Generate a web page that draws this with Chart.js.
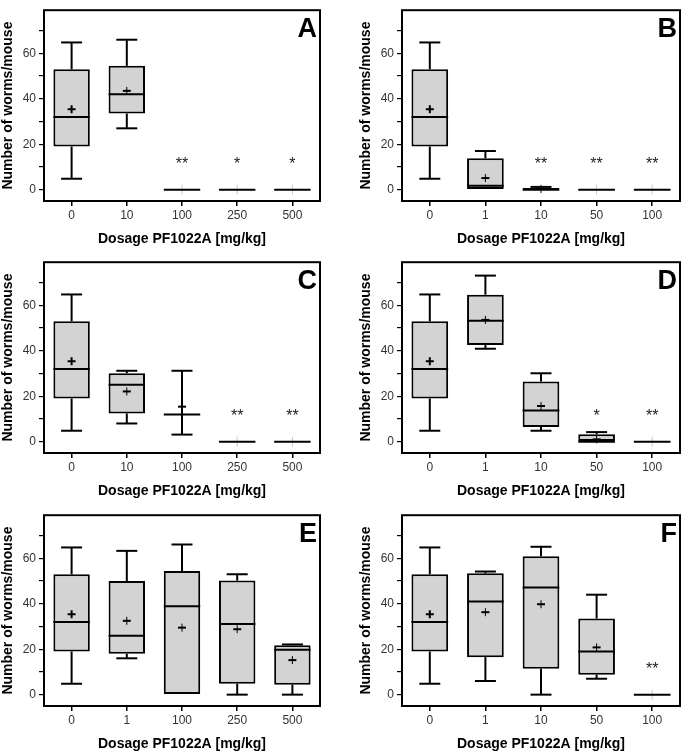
<!DOCTYPE html>
<html><head><meta charset="utf-8">
<script src="https://cdn.jsdelivr.net/npm/chart.js@4.4.0/dist/chart.umd.min.js"></script>
<style>
html,body{margin:0;padding:0;background:#fff;overflow:hidden;width:682px;height:755px;}
canvas{position:absolute;}
</style></head><body>
<canvas id="cA" width="341" height="250" style="left:0;top:0"></canvas>
<canvas id="cB" width="324" height="250" style="left:358px;top:0"></canvas>
<canvas id="cC" width="341" height="250" style="left:0;top:252px"></canvas>
<canvas id="cD" width="324" height="250" style="left:358px;top:252px"></canvas>
<canvas id="cE" width="341" height="250" style="left:0;top:505px"></canvas>
<canvas id="cF" width="324" height="250" style="left:358px;top:505px"></canvas>
<script>
// ---- Data ----
const labelsA = ['0','10','100','250','500'];
const minA  = [4.8, 27.0, 0, 0, 0];
const q1A   = [19, 33.5, 0, 0, 0];
const medA  = [32, 42.0, 0, 0, 0];
const q3A   = [53, 54.5, 0, 0, 0];
const maxA  = [64.8, 66.0, 0, 0, 0];
const meanA = [35.4, 43.5, 0, 0, 0];
const sigA  = ['', '', '**', '*', '*'];

const labelsB = ['0','1','10','50','100'];
const minB  = [4.8, 0, 0, 0, 0];
const q1B   = [19, 0, 0, 0, 0];
const medB  = [32, 1.7, 0, 0, 0];
const q3B   = [53, 13.8, 0.7, 0, 0];
const maxB  = [64.8, 17.0, 1.2, 0, 0];
const meanB = [35.4, 5.1, 0.3, 0, 0];
const sigB  = ['', '', '**', '**', '**'];

const labelsC = ['0','10','100','250','500'];
const minC  = [4.8, 8.0, 3.1, 0, 0];
const q1C   = [19, 12.4, 12.0, 0, 0];
const medC  = [32, 25.1, 12.0, 0, 0];
const q3C   = [53, 30.1, 12.0, 0, 0];
const maxC  = [64.8, 31.2, 31.2, 0, 0];
const meanC = [35.4, 22.1, 15.4, 0, 0];
const sigC  = ['', '', '', '**', '**'];

const labelsD = ['0','1','10','50','100'];
const minD  = [4.8, 40.9, 4.8, 0, 0];
const q1D   = [19, 42.6, 6.4, 0, 0];
const medD  = [32, 53.2, 13.7, 0, 0];
const q3D   = [53, 64.7, 26.5, 3.3, 0];
const maxD  = [64.8, 73.1, 30.1, 4.2, 0];
const meanD = [35.4, 53.6, 15.7, 1.0, 0];
const sigD  = ['', '', '', '*', '**'];

const labelsE = ['0','1','100','250','500'];
const minE  = [4.8, 16.0, 0, 0, 0];
const q1E   = [19, 18.0, 0, 4.8, 4.4];
const medE  = [32, 25.9, 38.9, 31.1, 19.8];
const q3E   = [53, 50.0, 54.4, 50.2, 21.8];
const maxE  = [64.8, 63.3, 66.1, 53.0, 22.1];
const meanE = [35.4, 32.5, 29.5, 28.8, 15.2];
const sigE  = ['', '', '', '', ''];

const labelsF = ['0','1','10','50','100'];
const minF  = [4.8, 6.0, 0, 7.0, 0];
const q1F   = [19, 16.5, 11.4, 8.8, 0];
const medF  = [32, 41.0, 47.2, 19.0, 0];
const q3F   = [53, 53.4, 60.9, 33.5, 0];
const maxF  = [64.8, 54.2, 65.1, 44.0, 0];
const meanF = [35.4, 36.3, 39.8, 20.8, 0];
const sigF  = ['', '', '', '', '**'];

const SIG_LEVEL = 13.0;
const yTickValues = [0, 10, 20, 30, 40, 50, 60, 70];
const xTitle = 'Dosage PF1022A [mg/kg]';
const yTitle = 'Number of worms/mouse';

// ---- Drawing ----
const FONT = '"Liberation Sans", Arial, Helvetica, sans-serif';
const BAR_PCT = 0.66;

const boxExtras = {
  id: 'boxExtras',
  afterDatasetsDraw(chart, args, o) {
    const {ctx, scales: {x, y}} = chart;
    const catW = x.getPixelForValue(1) - x.getPixelForValue(0);
    const half = catW * BAR_PCT / 2;
    const cap = 10.5;
    ctx.save();
    ctx.lineCap = 'butt';
    const line = (x1, y1, x2, y2, w, c) => {
      ctx.beginPath(); ctx.lineWidth = w; ctx.strokeStyle = c || '#000';
      ctx.moveTo(x1, y1); ctx.lineTo(x2, y2); ctx.stroke();
    };
    for (let i = 0; i < o.med.length; i++) {
      const cx = x.getPixelForValue(i);
      const pMax = y.getPixelForValue(o.max[i]), pQ3 = y.getPixelForValue(o.q3[i]);
      const pMin = y.getPixelForValue(o.min[i]), pQ1 = y.getPixelForValue(o.q1[i]);
      if (o.max[i] > o.q3[i]) {
        line(cx, pQ3, cx, pMax, 2);
        line(cx - cap, pMax, cx + cap, pMax, 2);
      }
      if (o.min[i] < o.q1[i]) {
        line(cx, pQ1, cx, pMin, 2);
        line(cx - cap, pMin, cx + cap, pMin, 2);
      }
      const pMean = y.getPixelForValue(o.mean[i]);
      const zero = o.max[i] === 0;
      if (zero) {
        line(cx, pMean - 5, cx, pMean + 5, 1, '#c8c8c8');
      }
      const pMed = y.getPixelForValue(o.med[i]);
      line(cx - half, pMed, cx + half, pMed, 2);
      if (!zero) {
        line(cx - 4, pMean, cx + 4, pMean, 2);
        line(cx, pMean - 4, cx, pMean + 4, i === 0 ? 2 : 1);
      }
      if (o.sig[i]) {
        ctx.font = '16px ' + FONT;
        ctx.fillStyle = '#222';
        ctx.textAlign = 'center';
        ctx.textBaseline = 'alphabetic';
        ctx.fillText(o.sig[i], cx, y.getPixelForValue(SIG_LEVEL) + 9);
      }
    }
    ctx.restore();
  },
  afterDraw(chart, args, o) {
    const {ctx, chartArea: a} = chart;
    ctx.save();
    ctx.strokeStyle = '#000';
    ctx.lineWidth = 2;
    ctx.strokeRect(a.left, a.top, a.right - a.left, a.bottom - a.top);
    ctx.font = 'bold 27px ' + FONT;
    ctx.fillStyle = '#000';
    ctx.textAlign = 'right';
    ctx.textBaseline = 'alphabetic';
    ctx.fillText(o.letter, a.right - 3, a.top + 26.5);
    ctx.restore();
  }
};

function makePanel(id, letter, labels, mn, q1, med, q3, mx, mean, sig, padRight) {
  new Chart(document.getElementById(id), {
    type: 'bar',
    data: {
      labels: labels,
      datasets: [{
        data: q1.map((v, i) => q3[i] > v ? [v, q3[i]] : null),
        backgroundColor: '#d3d3d3',
        borderColor: '#000',
        borderWidth: 2,
        borderSkipped: false,
        barPercentage: BAR_PCT,
        categoryPercentage: 1
      }]
    },
    options: {
      responsive: false,
      animation: false,
      events: [],
      layout: {padding: {left: 0, top: 3, right: padRight, bottom: 0}},
      plugins: {
        legend: {display: false},
        tooltip: {enabled: false},
        boxExtras: {letter, min: mn, q1, med, q3, max: mx, mean, sig}
      },
      scales: {
        x: {
          offset: true,
          grid: {display: true, drawOnChartArea: false, drawTicks: true, tickLength: 5,
                 color: '#000', lineWidth: 1.5, offset: false},
          border: {display: false},
          ticks: {color: '#333', font: {size: 12, family: FONT}, padding: 2, maxRotation: 0, autoSkip: false},
          title: {display: true, text: xTitle, color: '#000',
                  font: {size: 14, weight: 'bold', family: FONT}, padding: {top: 2, bottom: 2}},
          afterFit: s => { s.height = 49; }
        },
        y: {
          min: -5, max: 79,
          grid: {display: true, drawOnChartArea: false, drawTicks: true, tickLength: 5,
                 color: '#000', lineWidth: 1.2},
          border: {display: false},
          ticks: {stepSize: 10, color: '#333', font: {size: 12, family: FONT}, padding: 3,
                  callback: v => (v % 20 === 0 ? String(v) : '')},
          afterBuildTicks: s => { s.ticks = yTickValues.map(v => ({value: v})); },
          title: {display: true, text: yTitle, color: '#000',
                  font: {size: 14, weight: 'bold', family: FONT}, padding: 0},
          afterFit: s => { s.width = 44; }
        }
      }
    },
    plugins: [boxExtras]
  });
}

makePanel('cA', 'A', labelsA, minA, q1A, medA, q3A, maxA, meanA, sigA, 21);
makePanel('cB', 'B', labelsB, minB, q1B, medB, q3B, maxB, meanB, sigB, 2);
makePanel('cC', 'C', labelsC, minC, q1C, medC, q3C, maxC, meanC, sigC, 21);
makePanel('cD', 'D', labelsD, minD, q1D, medD, q3D, maxD, meanD, sigD, 2);
makePanel('cE', 'E', labelsE, minE, q1E, medE, q3E, maxE, meanE, sigE, 21);
makePanel('cF', 'F', labelsF, minF, q1F, medF, q3F, maxF, meanF, sigF, 2);
</script>
</body></html>
